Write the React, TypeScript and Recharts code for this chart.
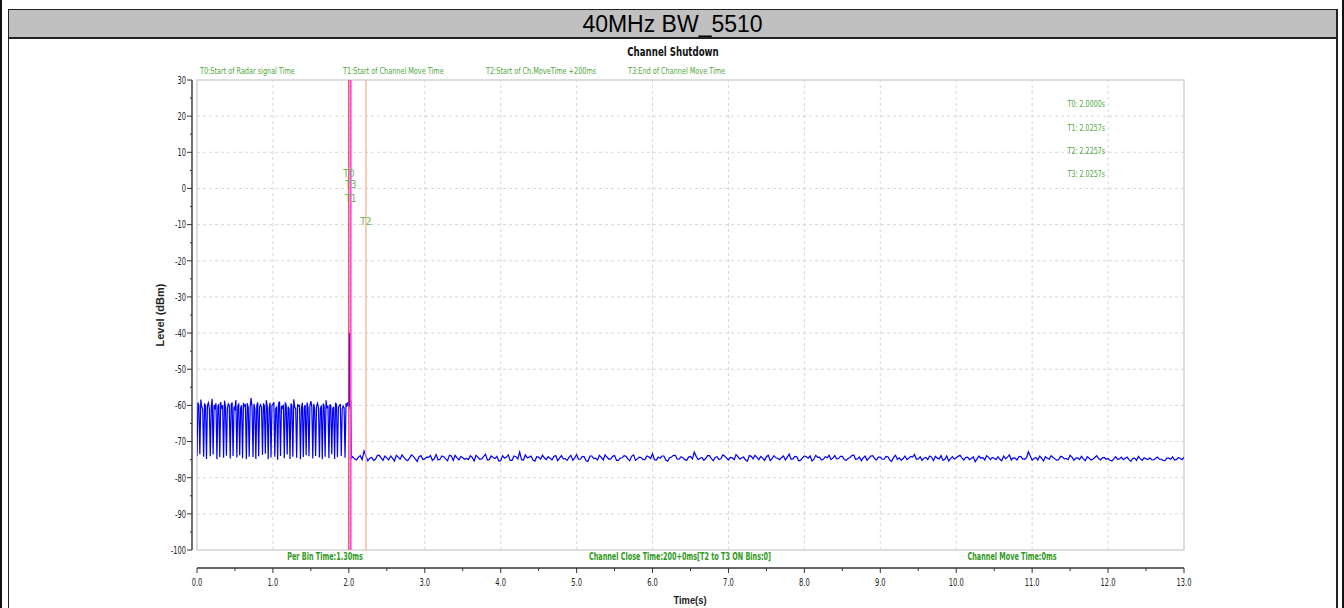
import React from 'react';
import {
  LineChart,
  Line,
  XAxis,
  YAxis,
  ReferenceLine,
  ReferenceArea,
  ReferenceDot,
  Label,
} from 'recharts';

// Radar ON part: level read every 12.5 ms from 0 s
const radarOnStep = 0.0125;
const radarOnLevels = [
  -74.0, -59.2, -60.1, -73.5, -58.4, -60.3, -61.0, -74.2, -59.5, -60.2,
  -74.8, -60.0, -59.3, -60.8, -74.1, -60.4, -58.2, -73.6, -59.9, -60.7,
  -59.4, -74.9, -60.2, -59.8, -74.3, -59.1, -60.9, -60.0, -74.5, -58.7,
  -60.3, -73.9, -60.8, -59.6, -60.1, -74.7, -59.8, -59.2, -74.0, -60.4,
  -61.0, -58.5, -74.4, -60.1, -59.7, -73.8, -60.6, -60.0, -74.6, -59.3,
  -60.2, -59.9, -74.9, -59.4, -60.7, -74.2, -60.3, -58.0, -60.5, -74.3,
  -59.6, -60.9, -74.8, -60.0, -59.2, -74.1, -60.4, -59.8, -60.6, -73.7,
  -59.5, -60.2, -73.4, -58.6, -60.1, -74.9, -60.8, -59.3, -74.4, -60.0,
  -59.7, -59.1, -74.2, -60.9, -60.3, -75.0, -59.4, -58.9, -74.0, -60.2,
  -60.7, -59.8, -74.6, -59.2, -60.0, -73.6, -60.4, -60.9, -74.8, -59.5,
  -60.1, -74.2, -58.3, -60.6, -60.8, -74.5, -59.7, -60.2, -60.0, -74.9,
  -60.9, -59.3, -74.3, -60.5, -59.9, -73.8, -59.2, -60.7, -74.1, -60.0,
  -58.8, -60.4, -74.7, -59.6, -60.9, -74.0, -60.2, -59.4, -60.6, -74.4,
  -61.0, -60.0, -74.9, -59.5, -60.3, -74.2, -58.6, -60.8, -60.1, -74.6,
  -59.7, -60.2, -73.5, -60.9, -60.4, -74.8, -59.3, -59.9, -74.3, -60.5,
  -60.1, -59.6, -74.0, -61.0, -60.2, -60.7, -74.5, -59.4, -60.3, -59.1,
];

// around T0 / T1
const spikeTimes = [2.0, 2.008, 2.016, 2.025, 2.035];
const spikeLevels = [-60.2, -40.0, -61.0, -58.6, -74.6];

// after the channel moved: level every 50 ms from 2.05 s, plus the readings in between
const offStart = 2.05;
const offStep = 0.05;
const offLevels = [
  -74.2, -75.1, -73.9, -72.6, -75.3, -74.4, -74.9, -73.8, -75.2, -74.5,
  -74.0, -75.4, -74.3, -73.7, -75.0, -74.6, -74.1, -75.5, -73.9, -74.8,
  -74.4, -75.2, -73.6, -74.9, -74.2, -75.3, -74.0, -73.8, -75.1, -74.5,
  -74.7, -73.9, -75.4, -74.3, -74.8, -73.5, -75.0, -74.4, -74.1, -75.3,
  -74.6, -73.7, -75.2, -74.2, -72.9, -75.1, -74.5, -74.0, -75.4, -74.3,
  -73.8, -75.0, -74.6, -74.1, -75.3, -73.9, -74.7, -74.4, -75.2, -73.6,
  -74.9, -74.2, -75.5, -74.0, -74.6, -73.8, -75.1, -74.3, -74.8, -73.9,
  -75.2, -74.5, -74.1, -75.3, -73.7, -74.8, -74.4, -75.0, -74.2, -73.4,
  -75.1, -74.6, -74.0, -75.4, -74.3, -73.8, -74.9, -74.5, -75.2, -74.1,
  -72.9, -75.0, -74.4, -74.7, -73.9, -75.3, -74.2, -74.8, -74.0, -75.1,
  -74.5, -73.6, -74.9, -74.3, -75.4, -74.1, -73.8, -75.0, -74.6, -74.2,
  -75.3, -73.9, -74.7, -74.4, -75.1, -73.5, -74.8, -74.2, -75.2, -74.0,
  -74.6, -75.4, -73.8, -74.3, -74.9, -74.5, -75.0, -73.9, -74.7, -74.1,
  -75.2, -74.4, -73.7, -74.8, -75.3, -74.0, -74.6, -73.9, -75.1, -74.3,
  -74.9, -74.2, -75.5, -73.8, -74.5, -74.7, -75.0, -74.1, -73.6, -74.8,
  -75.2, -74.4, -74.0, -75.3, -74.6, -73.9, -74.9, -75.4, -74.2, -74.5,
  -73.8, -75.1, -74.3, -74.7, -75.6, -74.0, -74.4, -73.9, -75.0, -74.6,
  -74.2, -75.3, -74.8, -73.7, -74.5, -75.1, -74.1, -74.9, -72.8, -75.2,
  -74.4, -74.0, -75.4, -74.6, -73.9, -74.8, -75.0, -74.3, -74.7, -73.8,
  -75.2, -74.5, -74.1, -75.3, -74.6, -74.9, -73.9, -75.1, -74.4, -74.7,
  -75.4, -74.2, -74.8, -75.0, -74.3, -75.5, -74.6, -74.1, -75.2, -74.8,
  -74.5, -75.1, -74.3, -74.9, -75.3, -74.6, -74.2, -75.0, -74.7, -74.4,
];
const offMidLevels = [
  -74.8, -74.3, -75.0, -74.1, -74.6, -75.2, -73.9, -74.5, -74.0, -75.1,
  -74.6, -73.8, -74.9, -74.4, -75.3, -73.7, -74.8, -74.2, -75.0, -74.3,
  -73.9, -74.7, -75.1, -74.0, -74.8, -73.8, -75.2, -74.5, -74.1, -74.9,
  -75.0, -74.4, -73.8, -74.9, -74.2, -75.1, -74.0, -74.7, -75.4, -73.9,
  -74.3, -75.2, -74.0, -74.8, -75.0, -73.7, -74.3, -75.1, -74.2, -74.9,
  -74.5, -74.2, -75.1, -73.9, -74.6, -74.8, -75.2, -73.8, -74.5, -74.9,
  -74.1, -75.3, -74.0, -74.7, -75.1, -74.4, -73.7, -74.9, -74.1, -75.2,
  -74.6, -73.9, -74.8, -74.1, -75.2, -74.3, -75.0, -74.0, -74.7, -75.0,
  -74.3, -74.0, -75.1, -74.5, -73.8, -74.9, -74.2, -75.0, -74.3, -74.8,
  -74.1, -74.6, -75.2, -73.9, -74.7, -74.4, -75.0, -73.7, -74.6, -74.4,
  -75.0, -74.2, -74.5, -75.1, -73.9, -74.8, -74.4, -74.1, -75.2, -73.8,
  -74.7, -74.5, -75.0, -74.0, -74.3, -74.9, -74.1, -75.3, -74.5, -74.2,
  -74.0, -74.9, -74.4, -75.1, -74.2, -73.8, -74.6, -74.8, -74.1, -75.0,
  -74.7, -73.9, -74.9, -74.3, -74.5, -75.2, -74.0, -74.7, -74.3, -74.9,
  -74.1, -75.1, -74.4, -74.9, -75.2, -74.0, -74.6, -74.3, -74.9, -74.2,
  -74.6, -75.0, -74.3, -74.1, -74.8, -75.2, -74.0, -74.7, -74.9, -74.1,
  -74.5, -74.4, -75.0, -74.2, -74.8, -74.6, -75.1, -74.3, -74.4, -75.0,
  -74.9, -74.0, -74.3, -75.1, -74.6, -74.2, -74.8, -74.5, -74.0, -74.7,
  -75.1, -74.6, -74.2, -74.9, -74.4, -75.2, -74.1, -74.8, -75.0, -74.3,
  -74.6, -75.0, -74.8, -74.2, -75.1, -74.4, -74.7, -74.5, -74.9, -75.2,
  -74.8, -74.9, -74.3, -74.6, -75.0, -74.7, -75.2, -74.8, -74.5, -75.0,
  -75.0, -74.7, -74.9, -75.2, -74.6, -74.9, -75.1, -74.4, -75.0, -74.8,
];

const xMajorTicks = [0, 1, 2, 3, 4, 5, 6, 7, 8, 9, 10, 11, 12, 13];
const xMinorTicks = [0.5, 1.5, 2.5, 3.5, 4.5, 5.5, 6.5, 7.5, 8.5, 9.5, 10.5, 11.5, 12.5];
const yMajorTicks = [-100, -90, -80, -70, -60, -50, -40, -30, -20, -10, 0, 10, 20, 30];
const yMinorTicks = [-95, -85, -75, -65, -55, -45, -35, -25, -15, -5, 5, 15, 25];

const markers = [
  { name: 'T0', time: 2.0, color: '#ff2448', labelLevel: 4.2 },
  { name: 'T3', time: 2.0257, color: '#ff44ee', labelLevel: 1.2 },
  { name: 'T1', time: 2.0257, color: '#ff44ee', labelLevel: -2.7 },
  { name: 'T2', time: 2.2257, color: '#ffa784', labelLevel: -9.1 },
];

const legendTexts = [
  'T0:Start of Radar signal Time',
  'T1:Start of Channel Move Time',
  'T2:Start of Ch.MoveTime +200ms',
  'T3:End of Channel Move Time',
];
const readouts = ['T0: 2.0000s', 'T1: 2.0257s', 'T2: 2.2257s', 'T3: 2.0257s'];
const footTexts = [
  'Per Bin Time:1.30ms',
  'Channel Close Time:200+0ms[T2 to T3 ON Bins:0]',
  'Channel Move Time:0ms',
];

const data = [
  ...radarOnLevels.map((level, i) => ({ time: i * radarOnStep, level })),
  ...spikeTimes.map((time, i) => ({ time, level: spikeLevels[i] })),
  ...offLevels.flatMap((level, i) => [
    { time: offStart + i * offStep, level },
    { time: offStart + (i + 0.5) * offStep, level: offMidLevels[i] },
  ]),
];

const NARROW = "'Liberation Sans Narrow', 'Arial Narrow', 'DejaVu Sans Condensed', 'Liberation Sans', sans-serif";
const GREEN = '#4ea83a';
const GREEN_BOLD = '#2f9a22';
const X_AXIS_DROP = 18; // time axis sits below the plot frame
const Y_AXIS_SHIFT = 5; // level axis sits left of the plot frame

const XTick = (props: any) => {
  const { x, y, payload, index, width } = props;
  const v = payload.value;
  const major = Math.abs(v - Math.round(v)) < 1e-6;
  const ay = y + X_AXIS_DROP;
  const len = typeof width === 'number' && width > 100 ? width : 987;
  return (
    <g>
      {index === 0 && <line x1={x} x2={x + len} y1={ay} y2={ay} stroke="#333" strokeWidth={1.4} />}
      <line x1={x} x2={x} y1={ay} y2={ay + (major ? 5 : 3)} stroke="#333" />
      {major && (
        <text
          transform={`translate(${x},${ay + 18}) scale(0.68,1)`}
          textAnchor="middle"
          fontSize={11}
          fill="#222"
          fontFamily={NARROW}
        >
          {v.toFixed(1)}
        </text>
      )}
    </g>
  );
};

const YTick = (props: any) => {
  const { x, y, payload, index, height } = props;
  const v = payload.value;
  const major = v % 10 === 0;
  const ax = x - Y_AXIS_SHIFT;
  const len = typeof height === 'number' && height > 100 ? height : 470;
  return (
    <g>
      {index === 0 && <line x1={ax} x2={ax} y1={y} y2={y - len} stroke="#333" strokeWidth={1.4} />}
      <line x1={ax - (major ? 5 : 2)} x2={ax} y1={y} y2={y} stroke="#333" />
      {major && (
        <text
          transform={`translate(${ax - 6},${y}) scale(0.68,1)`}
          dy="0.35em"
          textAnchor="end"
          fontSize={11}
          fill="#222"
          fontFamily={NARROW}
        >
          {v}
        </text>
      )}
    </g>
  );
};

const Txt = ({ x, y, anchor = 'left', sx = 1, style, children }: any) => (
  <div
    style={{
      position: 'absolute',
      left: x,
      top: y,
      whiteSpace: 'nowrap',
      lineHeight: 1,
      transformOrigin: anchor === 'center' ? 'center' : anchor === 'right' ? 'right' : 'left',
      transform: `translate(${anchor === 'center' ? '-50%' : anchor === 'right' ? '-100%' : '0'}, -50%) scaleX(${sx})`,
      ...style,
    }}
  >
    {children}
  </div>
);

export default function App() {
  const legendX = [200, 343, 486, 628];
  const readoutY = [104, 128, 151, 174];
  const footX = [325, 680, 1012];
  return (
    <div style={{ position: 'absolute', left: 0, top: 0, width: 1344, height: 608, background: '#fff', overflow: 'hidden', fontFamily: "'Liberation Sans', Arial, sans-serif" }}>
      <div style={{ position: 'absolute', left: 0, top: 0, width: 2, height: 608, background: '#111' }} />
      <div style={{ position: 'absolute', left: 1342, top: 0, width: 2, height: 608, background: '#111' }} />
      <div style={{ position: 'absolute', left: 8, top: 9, width: 1327, height: 640, borderLeft: '1px solid #222', borderTop: '1px solid #222', borderRight: '2px solid #222' }}>
        <div style={{ height: 27, background: '#c0c0c0', borderBottom: '2px solid #222', textAlign: 'center', fontSize: 23, lineHeight: '29px', color: '#000' }}>
          40MHz BW_5510
        </div>
      </div>

      <div style={{ position: 'absolute', left: 0, top: 0 }}>
        <LineChart width={1344} height={608} data={data} margin={{ top: 80, right: 160, bottom: 18, left: 152 }}>
          <ReferenceArea x1={0} x2={13} y1={-100} y2={30} fill="none" stroke="#d4d4d4" strokeWidth={1.5} />
          {xMajorTicks.slice(1, -1).map(t => (
            <ReferenceLine key={'gx' + t} x={t} stroke="#d6d6d6" strokeDasharray="3 3" />
          ))}
          {yMajorTicks.slice(1, -1).map(t => (
            <ReferenceLine key={'gy' + t} y={t} stroke="#d6d6d6" strokeDasharray="3 3" />
          ))}
          <XAxis
            type="number"
            dataKey="time"
            domain={[0, 13]}
            allowDataOverflow
            ticks={[...xMajorTicks, ...xMinorTicks].sort((a, b) => a - b)}
            interval={0}
            height={40}
            tickSize={0}
            tickMargin={0}
            tickLine={false}
            axisLine={false}
            tick={<XTick />}
          />
          <YAxis
            type="number"
            domain={[-100, 30]}
            allowDataOverflow
            ticks={[...yMajorTicks, ...yMinorTicks].sort((a, b) => a - b)}
            interval={0}
            width={45}
            tickSize={0}
            tickMargin={0}
            tickLine={false}
            axisLine={false}
            tick={<YTick />}
          >
            <Label value="Level (dBm)" angle={-90} position="insideLeft" offset={8} style={{ fontSize: 11, fontWeight: 'bold', fill: '#222', textAnchor: 'middle' }} />
          </YAxis>
          <Line type="linear" dataKey="level" stroke="#0000ff" strokeWidth={1.2} dot={false} isAnimationActive={false} />
          {markers.map(m => (
            <ReferenceLine key={'ml' + m.name} x={m.time} stroke={m.color} strokeWidth={1.2} />
          ))}
          {markers.map(m => (
            <ReferenceDot key={'md' + m.name} x={m.time} y={m.labelLevel} r={1} fill="none" stroke="none">
              <Label value={m.name} position="center" style={{ fontSize: 10, fill: '#66b85a', fontFamily: NARROW }} />
            </ReferenceDot>
          ))}
        </LineChart>
      </div>

      <Txt x={690} y={600} anchor="center" sx={0.85} style={{ fontSize: 11, fontWeight: 'bold', color: '#222' }}>
        Time(s)
      </Txt>
      <Txt x={673} y={52} anchor="center" sx={0.77} style={{ fontSize: 12.5, fontWeight: 'bold', fontFamily: NARROW, color: '#111' }}>
        Channel Shutdown
      </Txt>
      {legendTexts.map((t, i) => (
        <Txt key={t} x={legendX[i]} y={71} sx={0.76} style={{ fontSize: 9.5, fontFamily: NARROW, color: GREEN }}>
          {t}
        </Txt>
      ))}
      {readouts.map((t, i) => (
        <Txt key={t} x={1105} y={readoutY[i]} anchor="right" sx={0.74} style={{ fontSize: 9.5, fontFamily: NARROW, color: GREEN }}>
          {t}
        </Txt>
      ))}
      {footTexts.map((t, i) => (
        <Txt key={t} x={footX[i]} y={557} anchor="center" sx={0.72} style={{ fontSize: 10, fontWeight: 'bold', fontFamily: NARROW, color: GREEN_BOLD }}>
          {t}
        </Txt>
      ))}
    </div>
  );
}
